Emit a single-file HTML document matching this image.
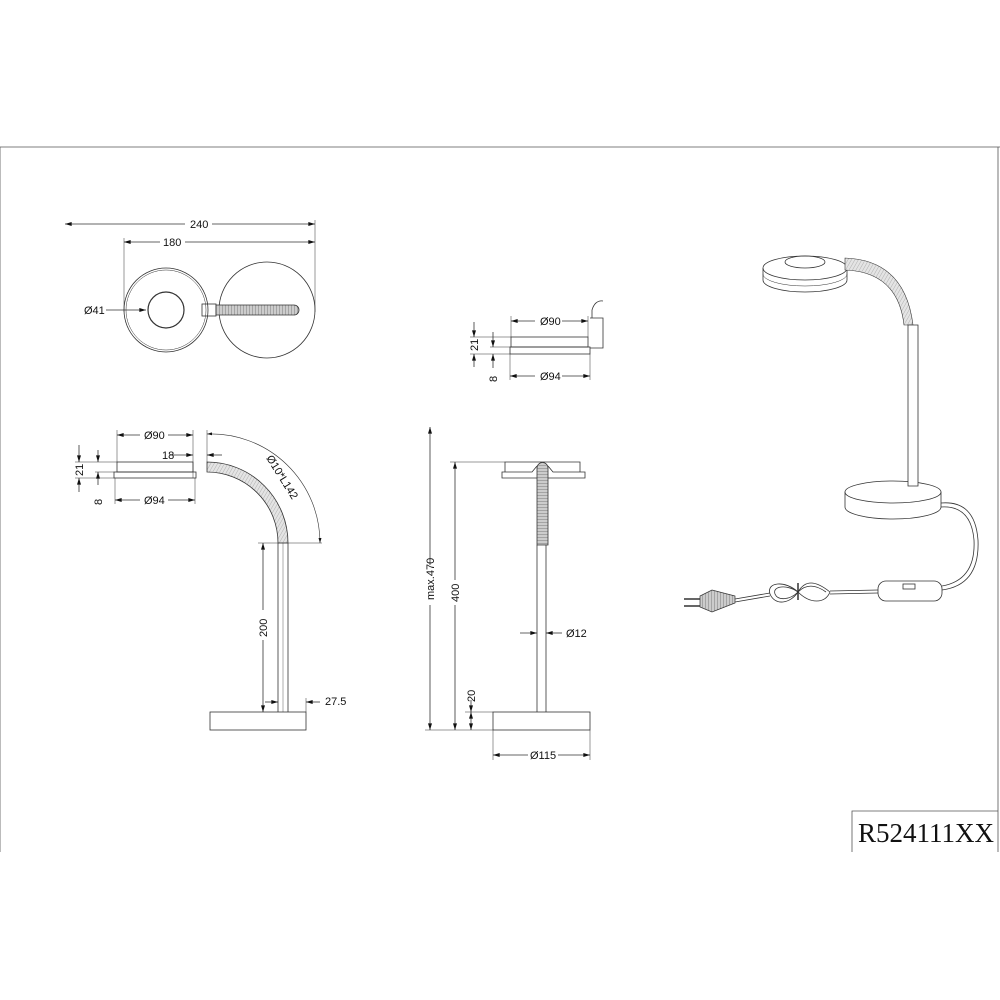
<!DOCTYPE html>
<html><head><style>body{margin:0;background:#fff}svg{display:block}text{font-family:"Liberation Sans",sans-serif;font-size:11px;fill:#111}</style></head><body>
<svg width="1000" height="1000" viewBox="0 0 1000 1000" xmlns="http://www.w3.org/2000/svg">
<defs>
<marker id="a" viewBox="0 0 10 6" refX="10" refY="3" markerWidth="9" markerHeight="5" orient="auto-start-reverse"><path d="M0,0L10,3L0,6z" fill="#111"/></marker>
<pattern id="h" width="3" height="3" patternUnits="userSpaceOnUse" patternTransform="rotate(30)"><rect width="3" height="3" fill="#e4e4e4"/><line x1="0" y1="0" x2="0" y2="3" stroke="#999" stroke-width="0.7"/></pattern>
<pattern id="hd" width="3" height="3" patternUnits="userSpaceOnUse"><rect width="3" height="3" fill="#ccc"/><line x1="0" y1="0" x2="3" y2="0" stroke="#666" stroke-width="0.8"/></pattern>
<pattern id="hv" width="3" height="3" patternUnits="userSpaceOnUse"><rect width="3" height="3" fill="#ccc"/><line x1="0" y1="0" x2="0" y2="3" stroke="#666" stroke-width="0.8"/></pattern>
</defs>
<g fill="none" stroke="#333" stroke-width="0.8">
<path d="M0,852V147H1000M998,147V852M852,852V811H998" stroke="#555"/>
<!-- top view -->
<line x1="65" y1="224" x2="185" y2="224" marker-start="url(#a)"/><line x1="212" y1="224" x2="315" y2="224" marker-end="url(#a)"/>
<line x1="124" y1="242" x2="160" y2="242" marker-start="url(#a)"/><line x1="185" y1="242" x2="315" y2="242" marker-end="url(#a)"/>
<line x1="124" y1="238" x2="124" y2="312" stroke-width="0.5"/><line x1="315" y1="220" x2="315" y2="312" stroke-width="0.5"/>
<circle cx="166" cy="310" r="42"/><circle cx="166" cy="310" r="40" stroke-width="0.5"/>
<circle cx="166" cy="310" r="18" stroke-width="1.2"/>
<line x1="106" y1="310" x2="146" y2="310" marker-end="url(#a)"/>
<circle cx="267" cy="310" r="48"/>
<rect x="202" y="304" width="14" height="12"/>
<path d="M216,305H294A5,5 0 0 1 294,315H216z" fill="url(#hv)"/>
<!-- side view -->
<line x1="117" y1="435" x2="140" y2="435" marker-start="url(#a)"/><line x1="168" y1="435" x2="193" y2="435" marker-end="url(#a)"/>
<line x1="117" y1="430" x2="117" y2="462" stroke-width="0.5"/><line x1="193" y1="430" x2="193" y2="478" stroke-width="0.5"/>
<line x1="207" y1="430" x2="207" y2="462" stroke-width="0.5"/>
<line x1="170" y1="455" x2="193" y2="455" marker-end="url(#a)"/><line x1="222" y1="455" x2="207" y2="455" marker-end="url(#a)"/>
<path d="M207,434A109,109 0 0 1 320,543" stroke-width="0.6" marker-start="url(#a)" marker-end="url(#a)"/>
<rect x="117" y="462" width="76" height="10"/><rect x="114" y="472" width="82" height="6"/>
<line x1="115" y1="500" x2="140" y2="500" marker-start="url(#a)"/><line x1="168" y1="500" x2="195" y2="500" marker-end="url(#a)"/>
<line x1="115" y1="478" x2="115" y2="504" stroke-width="0.5"/><line x1="195" y1="478" x2="195" y2="504" stroke-width="0.5"/>
<line x1="75" y1="462" x2="117" y2="462" stroke-width="0.5"/><line x1="95" y1="472" x2="114" y2="472" stroke-width="0.5"/><line x1="75" y1="478" x2="114" y2="478" stroke-width="0.5"/>
<line x1="79" y1="445" x2="79" y2="462" marker-end="url(#a)"/><line x1="79" y1="492" x2="79" y2="478" marker-end="url(#a)"/>
<line x1="98" y1="450" x2="98" y2="462" marker-end="url(#a)"/><line x1="98" y1="485" x2="98" y2="472" marker-end="url(#a)"/>
<path d="M207,462A81,81 0 0 1 288,543H278A71,71 0 0 0 207,472z" fill="url(#h)"/>
<line x1="278" y1="543" x2="278" y2="712"/><line x1="288" y1="543" x2="288" y2="712"/><line x1="283" y1="543" x2="283" y2="712" stroke-width="0.4"/>
<line x1="258" y1="543" x2="322" y2="543" stroke-width="0.5"/>
<line x1="263" y1="543" x2="263" y2="610" marker-start="url(#a)"/><line x1="263" y1="640" x2="263" y2="712" marker-end="url(#a)"/>
<rect x="210" y="712" width="96" height="18"/>
<line x1="265" y1="702" x2="278" y2="702" marker-end="url(#a)"/><line x1="320" y1="702" x2="306" y2="702" marker-end="url(#a)"/>
<line x1="306" y1="698" x2="306" y2="712" stroke-width="0.5"/>
<!-- small head view -->
<line x1="511" y1="321" x2="535" y2="321" marker-start="url(#a)"/><line x1="562" y1="321" x2="588" y2="321" marker-end="url(#a)"/>
<line x1="511" y1="316" x2="511" y2="337" stroke-width="0.5"/><line x1="588" y1="316" x2="588" y2="337" stroke-width="0.5"/>
<rect x="511" y="337" width="77" height="10"/><rect x="510" y="347" width="80" height="7"/>
<path d="M590,318H603V348H590M592,318V310Q595,300 603,301" />
<line x1="470" y1="337" x2="511" y2="337" stroke-width="0.5"/><line x1="490" y1="347" x2="510" y2="347" stroke-width="0.5"/><line x1="470" y1="354" x2="510" y2="354" stroke-width="0.5"/>
<line x1="474" y1="322" x2="474" y2="337" marker-end="url(#a)"/><line x1="474" y1="367" x2="474" y2="354" marker-end="url(#a)"/>
<line x1="493" y1="332" x2="493" y2="347" marker-end="url(#a)"/><line x1="493" y1="368" x2="493" y2="354" marker-end="url(#a)"/>
<line x1="510" y1="376" x2="535" y2="376" marker-start="url(#a)"/><line x1="562" y1="376" x2="590" y2="376" marker-end="url(#a)"/>
<line x1="510" y1="354" x2="510" y2="380" stroke-width="0.5"/><line x1="590" y1="354" x2="590" y2="380" stroke-width="0.5"/>
<!-- front view -->
<path d="M505,462H580V472H585V478H502V472H505z M505,472H532L537,466M548,466L553,472H580"/>
<path d="M537,545V468A5.5,5.5 0 0 1 548,468V545z" fill="url(#hd)"/>
<line x1="537" y1="545" x2="537" y2="712"/><line x1="546" y1="545" x2="546" y2="712"/>
<rect x="493" y="712" width="97" height="18"/>
<line x1="450" y1="462" x2="505" y2="462" stroke-width="0.5"/><line x1="425" y1="730" x2="493" y2="730" stroke-width="0.5"/><line x1="465" y1="712" x2="493" y2="712" stroke-width="0.5"/>
<line x1="430" y1="427" x2="430" y2="565" marker-start="url(#a)"/><line x1="430" y1="605" x2="430" y2="730" marker-end="url(#a)"/>
<line x1="455" y1="462" x2="455" y2="580" marker-start="url(#a)"/><line x1="455" y1="605" x2="455" y2="730" marker-end="url(#a)"/>
<line x1="471" y1="700" x2="471" y2="712" marker-end="url(#a)"/><line x1="471" y1="712" x2="471" y2="730" marker-start="url(#a)" marker-end="url(#a)"/>
<line x1="520" y1="633" x2="537" y2="633" marker-end="url(#a)"/><line x1="562" y1="633" x2="546" y2="633" marker-end="url(#a)"/>
<line x1="493" y1="730" x2="493" y2="760" stroke-width="0.5"/><line x1="590" y1="730" x2="590" y2="760" stroke-width="0.5"/>
<line x1="493" y1="755" x2="528" y2="755" marker-start="url(#a)"/><line x1="558" y1="755" x2="590" y2="755" marker-end="url(#a)"/>
<!-- perspective lamp -->
<path d="M763,268V280A42,12 0 0 0 847,280V268"/><ellipse cx="805" cy="268" rx="42" ry="12"/><ellipse cx="805" cy="262" rx="20" ry="6"/>
<path d="M763,274A42,12 0 0 0 847,274" stroke-width="0.5"/>
<path d="M845,258Q905,260 913,325H904Q898,272 845,270z" fill="url(#h)" stroke-width="0.6"/>
<path d="M845,492V507A48,12 0 0 0 941,507V492"/><ellipse cx="893" cy="492" rx="48" ry="11" fill="#fff"/>
<path d="M908,325H918V486H908z" fill="#fff"/>
<path d="M941,503Q975,500 978,540Q980,585 942,590M941,507Q971,505 974,540Q976,580 942,586"/>
<rect x="878" y="581" width="64" height="20" rx="8"/><rect x="903" y="584" width="12" height="5"/>
<path d="M878,590L830,591M878,593L830,594"/>
<path d="M830,592C815,580 805,580 798,592C790,604 775,606 770,594C766,582 785,580 798,592C810,604 825,604 830,592"/>
<path d="M826,592C815,584 806,584 798,592C790,600 778,601 775,594C772,586 787,584 798,592"/>
<line x1="798" y1="583" x2="798" y2="600" stroke-width="1.5"/>
<path d="M770,593L735,599M770,596L735,602"/>
<path d="M735,596L712,590L700,596V607L712,612L735,603z" fill="url(#hv)" stroke-width="0.7"/>
<path d="M700,599H684M700,606H684" stroke-width="1.6"/>
</g>
<g>
<text x="190" y="228">240</text><text x="163" y="246">180</text>
<text x="84" y="314">Ø41</text>
<text x="144" y="439">Ø90</text><text x="162" y="459">18</text><text x="144" y="504">Ø94</text>
<text transform="translate(83,476) rotate(-90)">21</text><text transform="translate(102,505) rotate(-90)">8</text>
<text transform="translate(266,458) rotate(58)">Ø10*L142</text>
<text transform="translate(267,637) rotate(-90)">200</text>
<text x="325" y="705">27.5</text>
<text x="540" y="325">Ø90</text><text x="540" y="380">Ø94</text>
<text transform="translate(478,351) rotate(-90)">21</text><text transform="translate(497,382) rotate(-90)">8</text>
<text transform="translate(434,600) rotate(-90)">max.470</text>
<text transform="translate(459,602) rotate(-90)">400</text>
<text transform="translate(475,702) rotate(-90)">20</text>
<text x="566" y="637">Ø12</text><text x="530" y="759">Ø115</text>
<text x="858" y="842" style="font-family:'Liberation Serif',serif;font-size:27px">R524111XX</text>
</g>
</svg>
</body></html>
